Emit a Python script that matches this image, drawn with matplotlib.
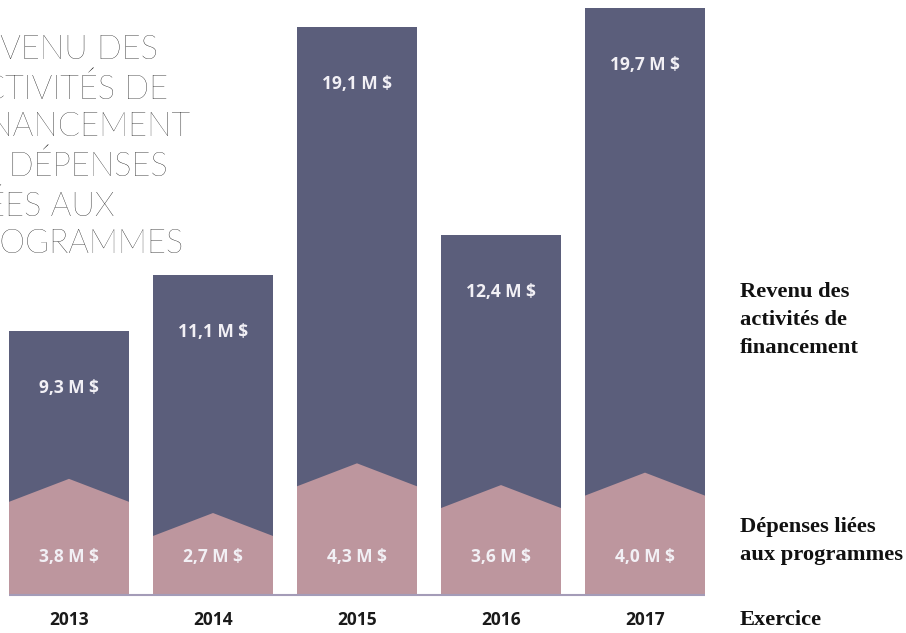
import numpy as np
import matplotlib
matplotlib.use('Agg')
import matplotlib.pyplot as plt
from matplotlib.patches import Polygon

# data (millions de $)
years = ['2013', '2014', '2015', '2016', '2017']
revenu = [9.3, 11.1, 19.1, 12.4, 19.7]
depenses = [3.8, 2.7, 4.3, 3.6, 4.0]
revenu_lbl = ['9,3 M $', '11,1 M $', '19,1 M $', '12,4 M $', '19,7 M $']
depenses_lbl = ['3,8 M $', '2,7 M $', '4,3 M $', '3,6 M $', '4,0 M $']

dark = '#5b5e7b'
pink = '#bd969e'
base_col = '#a49cb8'

W, H = 906, 633
fig = plt.figure(figsize=(W / 100, H / 100), dpi=100)
fig.patch.set_facecolor('white')

# axes: baseline at 595 px from top, bars clipped at y=0.8
ax = fig.add_axes([0, (H - 595) / H, 1, 595 / H])
ax.set_xlim(-69 / 144, (W - 69) / 144)
ax.set_ylim(0.8, 19.96)
ax.axis('off')

x = np.arange(len(years))
bw = 120 / 144
notch = 0.74

ax.bar(x, revenu, width=bw, color=dark, zorder=1)

# pink "house" shapes for program expenses
for xi, e in zip(x, depenses):
    pts = [(xi - bw / 2, 0), (xi - bw / 2, e), (xi, e + notch),
           (xi + bw / 2, e), (xi + bw / 2, 0)]
    ax.add_patch(Polygon(pts, closed=True, facecolor=pink, edgecolor='none', zorder=2))

ax.hlines(0.8, x[0] - bw / 2, x[-1] + bw / 2, color=base_col, lw=1.5, zorder=3, clip_on=False)

lab_font = dict(family=['Open Sans', 'DejaVu Sans'], fontweight='bold', fontsize=12.5,
                color='#f2f0f5', ha='center', va='center', zorder=4)
for xi, v, t in zip(x, revenu, revenu_lbl):
    ax.text(xi, v - 1.84, t, **lab_font)
for xi, t in zip(x, depenses_lbl):
    ax.text(xi, 2.02, t, **lab_font)
for xi, t in zip(x, years):
    ax.text(xi, 0.0, t, family=['Open Sans', 'DejaVu Sans'], fontweight='bold',
            fontsize=12.5, color='#1a1a1a', ha='center', va='center', clip_on=False)

# title, cut by the left edge as in the original
fig.text(-38 / W, 1 - 35 / H,
         'REVENU DES\nACTIVITÉS DE\nFINANCEMENT\nET DÉPENSES\nLIÉES AUX\nPROGRAMMES',
         family=['Lato', 'DejaVu Sans'], fontweight='light', fontsize=23.5,
         color='#000000', ha='left', va='top', linespacing=1.32)

serif = dict(family=['Liberation Serif', 'DejaVu Serif'], fontweight='bold',
             fontsize=16.2, color='#111111', ha='left', va='center', linespacing=1.55)
fig.text(740 / W, 1 - 320 / H, 'Revenu des\nactivités de\nfinancement', **serif)
fig.text(740 / W, 1 - 541 / H, 'Dépenses liées\naux programmes', **serif)
fig.text(740 / W, 1 - 620 / H, 'Exercice', **serif)

fig.savefig('out.png', dpi=100, facecolor='white')
